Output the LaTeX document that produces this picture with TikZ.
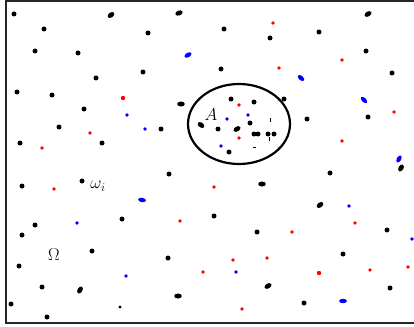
\documentclass[tikz,border=0pt]{standalone}
\begin{document}
\begin{tikzpicture}[x=1pt,y=-1pt,
  bd/.style={fill=black},
  rd/.style={fill=red},
  bl/.style={fill=blue},
  lbl/.style={inner sep=0pt,font=\fontsize{18}{21}\selectfont}]
\useasboundingbox (0,0) rectangle (414,326);
\begin{scope}
\clip (0,0) rectangle (414,326);
\draw[line width=1.3pt,black!85] (420,1) -- (6,1) -- (6,323) -- (420,323);
\end{scope}
% black round dots
\foreach \p in {(14,14),(44,29),(148,33),(35,51),(78,53),(143,72),(96,78),(17,92),(52,95),(84,109),(59,127),(161,129),(20,143),(102,143),(224,29),(319,32),(270,38),(366,51),(221,69),(392,73),(284,99),(231,99),(254,102),(307,119),(368,117),(218,129),(250,123),(254,134),(258,134),(268,134),(274,134),(229,152),(22,186),(82,181),(169,174),(35,225),(122,219),(22,235),(92,251),(168,258),(19,266),(42,287),(11,304),(47,317),(330,173),(214,216),(257,232),(387,230),(343,254),(390,288),(304,303)}
  \fill[bd] \p circle[radius=2.5];
\fill[bd] (120,307) circle[radius=1.7];
% elongated black dots
\foreach \x/\y/\a in {111/15/35,179/13/20,368/14/30,181/104/0,201/125/-35,237/129/30,80/290/60,178/296/0,401/168/60,262/184/0,320/205/35,268/286/30}
  \fill[bd,rotate around={\a:(\x,\y)}] (\x,\y) ellipse[x radius=3.8,y radius=2.5];
% small marks
\draw[line width=0.8pt] (270,118) -- (270,122);
\draw[line width=0.8pt] (269,137) -- (269,141);
\draw[line width=0.8pt] (252.5,147) -- (255.5,147);
% red dots
\foreach \p in {(90,133),(42,148),(273,23),(342,60),(279,68),(239,105),(394,112),(239,138),(342,141),(54,189),(180,221),(203,272),(214,187),(355,223),(292,232),(233,260),(267,258),(370,270),(408,267),(242,309)}
  \fill[rd] \p circle[radius=1.8];
\fill[rd] (123,98) circle[radius=2.2];
\fill[rd] (319,273) circle[radius=2.2];
% blue dots
\foreach \p in {(127,115),(145,129),(227,119),(248,115),(221,146),(77,223),(126,276),(349,206),(412,239),(236,272)}
  \fill[bl] \p circle[radius=1.8];
\foreach \x/\y/\a in {188/55/30,301/78/-40,364/100/-45,399/159/60,142/200/-10,343/301/0}
  \fill[bl,rotate around={\a:(\x,\y)}] (\x,\y) ellipse[x radius=3.9,y radius=2.2];
% region A
\draw[line width=2.2pt] (239,124) ellipse[x radius=51,y radius=40];
\node[lbl] (A) at (211,115) {$A$};
\node[lbl] (w) at (98,186) {$\omega_i$};
\node[lbl] (O) at (54,255) {$\Omega$};
\end{tikzpicture}
\end{document}
